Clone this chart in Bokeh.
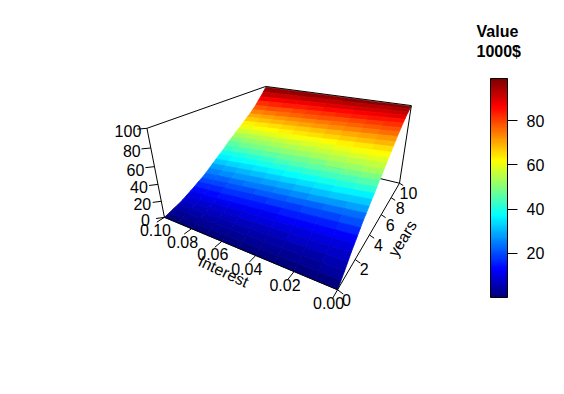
import numpy as np
from bokeh.core.properties import value
from bokeh.embed import file_html
from bokeh.models import ColorBar, ColumnDataSource, FixedTicker, LinearColorMapper
from bokeh.plotting import figure
from bokeh.resources import INLINE

interest = [0.00, 0.01, 0.02, 0.03, 0.04, 0.05, 0.06, 0.07, 0.08, 0.09, 0.10]
years = [0, 0.33, 0.67, 1, 1.33, 1.67, 2, 2.33, 2.67, 3, 3.33, 3.67, 4, 4.33, 4.67, 5,
         5.33, 5.67, 6, 6.33, 6.67, 7, 7.33, 7.67, 8, 8.33, 8.67, 9, 9.33, 9.67, 10]
value_at_rate_000 = [0, 4, 8.5, 13, 18, 22, 26, 30, 34, 37, 40.5, 44, 47, 50.5, 54, 57,
                     60.5, 64, 67, 70.5, 74, 77, 80.5, 83.5, 86, 89, 91.5, 94, 96, 98, 99]
value_at_rate_010 = [0, 1.5, 3.5, 5, 7, 9.5, 12, 14.5, 17.5, 20, 23, 26.5, 30, 33.5, 37, 40,
                     44, 48, 51, 54.5, 58, 61, 64.5, 68, 71, 75, 79, 84, 88.5, 93.5, 99]
colour_at_rate_000 = [0, 2, 4, 6, 8.5, 11, 14, 18, 22, 26, 31, 35, 39, 44, 48, 52,
                      55, 58, 61, 64, 67, 71, 74, 78, 81, 84, 87, 90, 93, 96, 99]
rate_blend = [0, 0.1, 0.2, 0.3, 0.4, 0.5, 0.6, 0.7, 0.8, 0.9, 1]
interest_ticks = [0.00, 0.02, 0.04, 0.06, 0.08, 0.10]
year_ticks = [0, 2, 4, 6, 8, 10]
value_ticks = [0, 20, 40, 60, 80, 100]
bar_ticks = [20, 40, 60, 80]

# perspective camera: maps (interest/0.1, years/10, value/100) to the page
CAMERA = np.array([[-116.61359, 296.89009, -47.02245, 337.05478],
                   [2.26315, 1.02953, -140.19152, 289.27518],
                   [0.34455, 0.58884, -0.16030, 1.0]])

def project(x, y, z):
    h = CAMERA @ np.array([x / 0.1, y / 10, z / 100, 1.0])
    return h[0] / h[2], h[1] / h[2]

ANCHORS = [(0, 0, 127), (0, 0, 255), (0, 255, 255), (255, 255, 0), (255, 0, 0), (127, 0, 0)]
STOPS = [0, 0.125, 0.375, 0.625, 0.875, 1]
palette = []
for t in np.linspace(0, 1, 100):
    rgb = [int(round(np.interp(t, STOPS, [a[i] for a in ANCHORS]))) for i in range(3)]
    palette.append("#%02x%02x%02x" % tuple(rgb))
zmax = 99.0

blend = np.array(rate_blend)
z = np.outer(value_at_rate_000, 1 - blend) + np.outer(value_at_rate_010, blend)
cv = np.outer(colour_at_rate_000, 1 - blend) + np.outer(value_at_rate_010, blend)

p = figure(width=556, height=386, x_range=(0, 556), y_range=(386, 0), toolbar_location=None,
           output_backend="svg", min_border=0, outline_line_color=None)
p.grid.visible = False
p.axis.visible = False

def seg(a, b):
    pa, pb = project(*a), project(*b)
    p.line([pa[0], pb[0]], [pa[1], pb[1]], line_color="black", line_width=1)

# hidden back edge, then surface
seg((0, 10, 0), (0.1, 10, 0))
xs, ys, cols = [], [], []
for j in range(len(years) - 2, -1, -1):
    for i in range(len(interest) - 2, -1, -1):
        corners = [(i, j), (i + 1, j), (i + 1, j + 1), (i, j + 1)]
        pts = [project(interest[a], years[b], z[b, a]) for a, b in corners]
        xs.append([q[0] for q in pts])
        ys.append([q[1] for q in pts])
        m = np.mean([cv[b, a] for a, b in corners])
        cols.append(palette[min(99, int(m / zmax * 100))])
p.patches("xs", "ys", source=ColumnDataSource(dict(xs=xs, ys=ys, c=cols)),
          fill_color="c", line_color="c", line_width=0.8)

# box
seg((0.1, 0, 100), (0.1, 10, 100))
seg((0.1, 10, 100), (0, 10, 100))
seg((0.1, 0, 100), (0.1, 0, 0))
seg((0.1, 0, 0), (0, 0, 0))
seg((0, 0, 0), (0, 10, 0))
seg((0, 10, 0), (0, 10, 100))

FONT = value("Liberation Sans")
SIZE = "16px"
def labels(pts, texts, dx, dy):
    p.text([q[0] for q in pts], [q[1] for q in pts], text=texts, text_font=FONT, text_font_size=SIZE,
           text_color="black", text_align="center", text_baseline="middle", x_offset=dx, y_offset=dy)

for t in interest_ticks:
    seg((t, 0, 0), (t, -0.5, 0))
labels([project(t, 0, 0) for t in interest_ticks], ["%.2f" % t for t in interest_ticks], -9, 13)
for t in year_ticks:
    seg((0, t, 0), (-0.0025, t, -2))
labels([project(0, t, 0) for t in year_ticks], [str(t) for t in year_ticks], 9, 10)
for t in value_ticks:
    seg((0.1, 0, t), (0.103, -0.3, t))
labels([project(0.1, 0, t) for t in value_ticks], [str(t) for t in value_ticks], -19, 3)

p.text([223], [271], text=["Interest"], angle=[-25], angle_units="deg", text_font=FONT, text_font_size=SIZE,
       text_align="center", text_baseline="middle", text_color="black")
p.text([402], [238], text=["years"], angle=[58], angle_units="deg", text_font=FONT, text_font_size=SIZE,
       text_align="center", text_baseline="middle", text_color="black")
p.text([476, 476], [31, 51], text=["Value", "1000$"], text_font=FONT, text_font_size=SIZE,
       text_font_style="bold", text_align="left", text_baseline="middle", text_color="black")

mapper = LinearColorMapper(palette=palette, low=0, high=zmax)
bar = ColorBar(color_mapper=mapper, location=(490, 89), width=17, height=219, padding=0,
               ticker=FixedTicker(ticks=bar_ticks), major_tick_in=0, major_tick_out=10,
               major_tick_line_color="black", bar_line_color="black", bar_line_width=1,
               major_label_text_font="Liberation Sans", major_label_text_font_size=SIZE,
               major_label_text_color="black", label_standoff=9,
               background_fill_alpha=0, border_line_color=None, minor_tick_line_color=None)
p.add_layout(bar, "center")

open("out.html", "w").write(file_html(p, INLINE))
